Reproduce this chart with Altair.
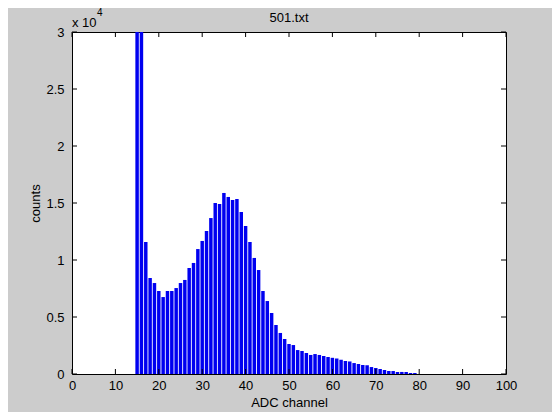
import altair as alt
import pandas as pd

# ---- data ----
channels = list(range(15, 80))
counts = [45000, 38000, 11580, 8420, 7980, 7280, 6750, 7280, 7280, 7540,
          7980, 8250, 9300, 9740, 10960, 11670, 12540, 13680, 15000, 14910,
          15880, 15530, 15260, 15350, 14210, 12980, 11580, 10180, 9120, 7280,
          6400, 5350, 4300, 3600, 3070, 2630, 2540, 2100, 2020, 1840,
          1670, 1750, 1670, 1580, 1490, 1420, 1350, 1250, 1140, 1100,
          960, 880, 790, 760, 610, 530, 440, 350, 260, 260,
          180, 180, 180, 90, 90]
x_ticks = list(range(0, 101, 10))
y_ticks = [0, 5000, 10000, 15000, 20000, 25000, 30000]
title_text = "501.txt"
x_title = "ADC channel"
y_title = "counts"
exp_base = "x 10"
exp_power = "4"

W, H = 434, 342
FONT = "Liberation Sans"
FS = 13

df = pd.DataFrame({"ch": channels, "count": counts})
xt = pd.DataFrame({"t": x_ticks})
yt = pd.DataFrame({"t": y_ticks})

xscale = alt.Scale(domain=[0, 100], nice=False, zero=False)
yscale = alt.Scale(domain=[0, 30000], nice=False)
xaxis = alt.Axis(values=x_ticks, title=x_title, ticks=False, domain=False,
                 grid=False, labelPadding=5, titlePadding=4, format="d",
                 labelFlush=False, labelOverlap=False)
yaxis = alt.Axis(values=y_ticks, title=y_title, ticks=False, domain=False,
                 grid=False, labelPadding=8, titlePadding=3,
                 labelFlush=False, labelOverlap=False,
                 labelExpr="format(datum.value / 10000, '~g')")

bars = alt.Chart(df).transform_calculate(
    lo="datum.ch - 0.4", hi="datum.ch + 0.4"
).mark_bar(color="#0000f0", clip=True).encode(
    x=alt.X("lo:Q", scale=xscale, axis=xaxis),
    x2="hi:Q",
    y=alt.Y("count:Q", scale=yscale, axis=yaxis),
    y2=alt.datum(0),
)

tick_len = 5
xb = alt.Chart(xt).mark_rule(color="black").encode(
    x=alt.X("t:Q", scale=xscale, axis=xaxis), y=alt.value(H), y2=alt.value(H - tick_len))
xtop = alt.Chart(xt).mark_rule(color="black").encode(
    x=alt.X("t:Q", scale=xscale, axis=xaxis), y=alt.value(0), y2=alt.value(tick_len))
yl = alt.Chart(yt).mark_rule(color="black").encode(
    y=alt.Y("t:Q", scale=yscale, axis=yaxis), x=alt.value(0), x2=alt.value(tick_len))
yr = alt.Chart(yt).mark_rule(color="black").encode(
    y=alt.Y("t:Q", scale=yscale, axis=yaxis), x=alt.value(W), x2=alt.value(W - tick_len))

tdf = pd.DataFrame({"a": [title_text], "b": [exp_base], "c": [exp_power]})
title = alt.Chart(tdf).mark_text(font=FONT, fontSize=FS, align="center",
                                 baseline="alphabetic", color="black").encode(
    text="a:N", x=alt.value(W / 2), y=alt.value(-10))
exp1 = alt.Chart(tdf).mark_text(font=FONT, fontSize=FS, align="left",
                                baseline="alphabetic", color="black").encode(
    text="b:N", x=alt.value(0), y=alt.value(-5))
exp2 = alt.Chart(tdf).mark_text(font=FONT, fontSize=10, align="left",
                                baseline="alphabetic", color="black").encode(
    text="c:N", x=alt.value(25), y=alt.value(-16))

chart = alt.layer(bars, xb, xtop, yl, yr, title, exp1, exp2).properties(
    width=W, height=H,
    autosize=alt.AutoSizeParams(type="none"),
    padding={"left": 64, "top": 24, "right": 46, "bottom": 38},
    background="#cccccc",
).configure_view(
    fill="white", stroke="black", strokeWidth=1
).configure_axis(
    labelFont=FONT, labelFontSize=FS, labelColor="black",
    titleFont=FONT, titleFontSize=FS, titleColor="black", titleFontWeight="normal",
)

chart.save("out.html", embed_options={"renderer": "svg", "actions": False})
